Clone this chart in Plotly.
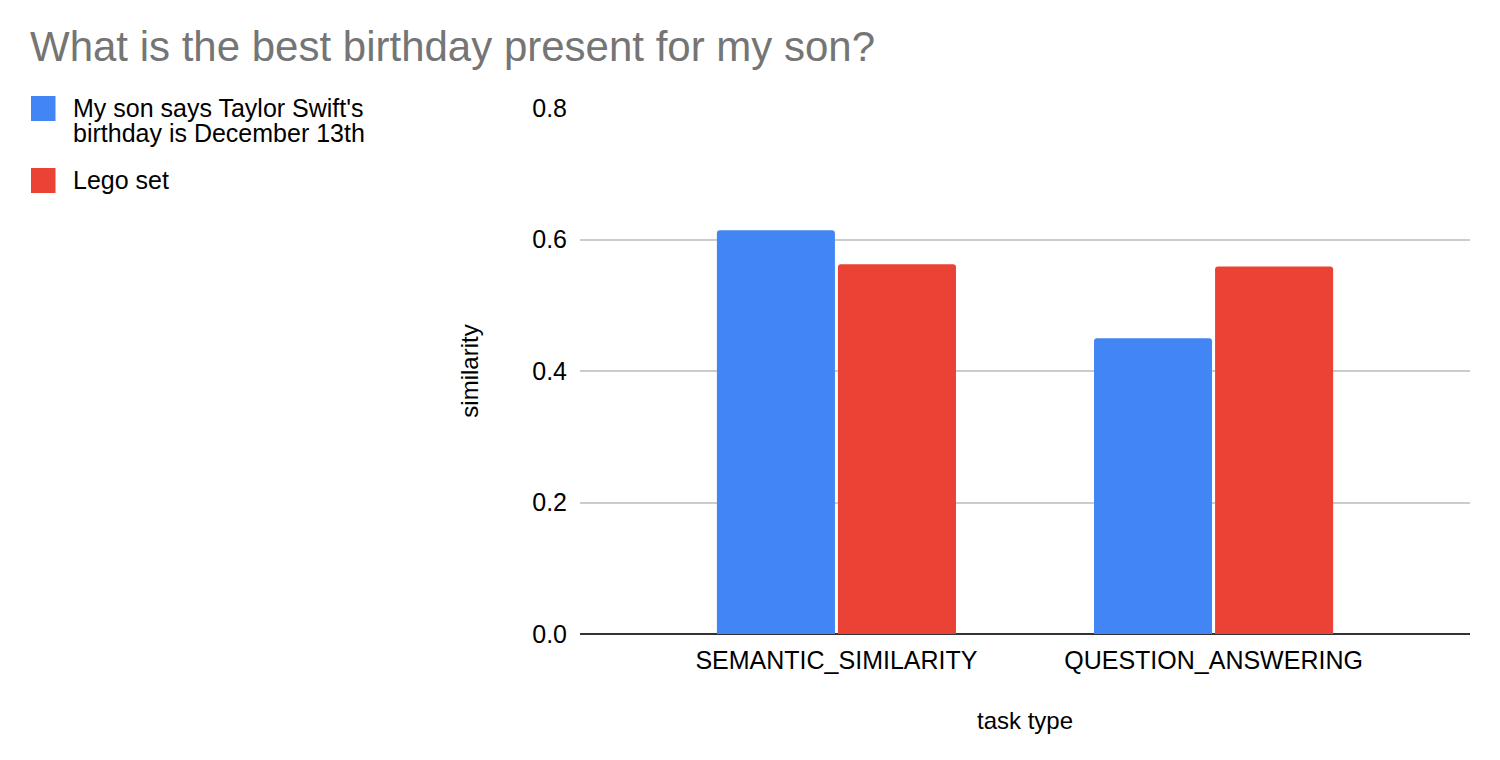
import plotly.graph_objects as go

categories = ["SEMANTIC_SIMILARITY", "QUESTION_ANSWERING"]
legend_lines = [["My son says Taylor Swift's", "birthday is December 13th"], ["Lego set"]]
taylor_values = [0.614, 0.450]
lego_values = [0.5625, 0.559]
series_colors = ["#4285F4", "#EA4335"]
y_ticks = [0.0, 0.2, 0.4, 0.6, 0.8]
y_tick_labels = ["0.0", "0.2", "0.4", "0.6", "0.8"]

FONT = "Arial, Liberation Sans, sans-serif"
W, H = 1500, 760
ML, MR, MT, MB = 572, 38, 100, 134
PW, PH = W - ML - MR, H - MT - MB


def px_x(fx):
    return (fx - ML) / PW


def px_y(fy):
    return (MT + PH - fy) / PH


fig = go.Figure()
fig.add_trace(go.Bar(x=categories, y=taylor_values, name=" ".join(legend_lines[0]),
                     marker=dict(color=series_colors[0], cornerradius=3, line=dict(width=0))))
fig.add_trace(go.Bar(x=categories, y=lego_values, name=" ".join(legend_lines[1]),
                     marker=dict(color=series_colors[1], cornerradius=3, line=dict(width=0))))

# custom legend (larger swatches like the reference)
shapes = []
annotations = []
sw_tops = [88, 160]
for i, (lines, color) in enumerate(zip(legend_lines, series_colors)):
    top = sw_tops[i]
    shapes.append(dict(type="rect", xref="paper", yref="paper",
                       x0=px_x(23), x1=px_x(47.5), y0=px_y(top), y1=px_y(top + 25),
                       fillcolor=color, line=dict(width=0), layer="above"))
    for j, line in enumerate(lines):
        annotations.append(dict(text=line, xref="paper", yref="paper",
                                x=px_x(63), y=px_y(top + 12 + 25 * j),
                                xanchor="left", yanchor="middle", showarrow=False,
                                font=dict(family=FONT, size=25, color="#000000")))

fig.update_layout(
    width=W, height=H,
    paper_bgcolor="white", plot_bgcolor="white",
    font=dict(family=FONT, size=25, color="#000000"),
    showlegend=False,
    title=dict(text="What is the best birthday present for my son?",
               x=22 / W, xref="container", xanchor="left",
               y=1 - 38.5 / H, yref="container", yanchor="middle",
               font=dict(family=FONT, size=42, color="#757575")),
    margin=dict(l=ML, r=MR, t=MT, b=MB),
    barmode="group", bargap=0.358, bargroupgap=0.025,
    shapes=shapes, annotations=annotations,
    xaxis=dict(range=[-0.68, 1.68], showgrid=False, showline=False, zeroline=False,
               ticks="", ticklabelstandoff=9,
               tickfont=dict(family=FONT, size=25, color="#000000"),
               title=dict(text="task type", standoff=39,
                          font=dict(family=FONT, size=24, color="#000000")),
               automargin=False, fixedrange=True),
    yaxis=dict(range=[0, 0.8], tickvals=y_ticks, ticktext=y_tick_labels,
               showgrid=True, gridcolor="#cccccc", gridwidth=1.5,
               zeroline=True, zerolinecolor="#333333", zerolinewidth=2,
               showline=False, ticks="", ticklabelstandoff=12,
               tickfont=dict(family=FONT, size=25, color="#000000"),
               title=dict(text="similarity", standoff=46,
                          font=dict(family=FONT, size=24, color="#000000")),
               automargin=False, fixedrange=True),
)

fig.write_html("out.html")
